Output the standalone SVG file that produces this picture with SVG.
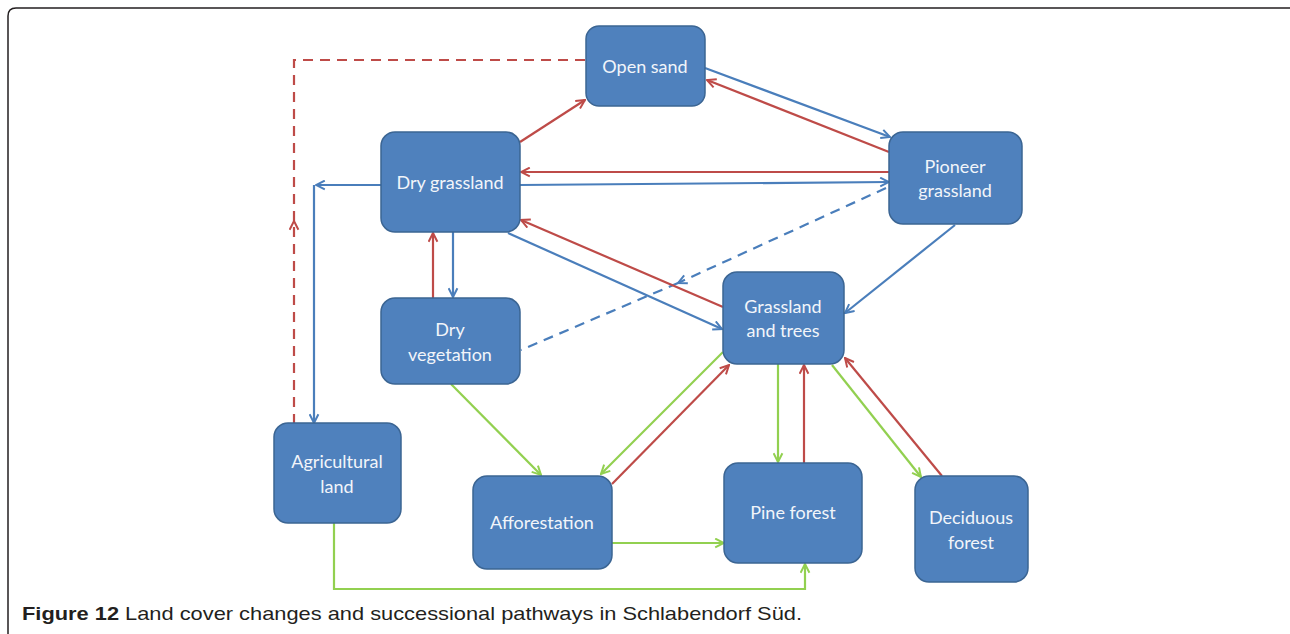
<svg xmlns="http://www.w3.org/2000/svg" width="1290" height="634" viewBox="0 0 1290 634">
<style>
.box{fill:#4F81BD;stroke:#3B6593;stroke-width:1.5}
.lbl{font-family:Lato,"Open Sans",sans-serif;font-size:18px;fill:#F2F5FA;text-anchor:middle}
.b{stroke:#4A7EBB;stroke-width:2.2;fill:none}
.r{stroke:#BE4B48;stroke-width:2.2;fill:none}
.g{stroke:#92D050;stroke-width:2.2;fill:none}
.d{stroke-dasharray:10,7}
.cap{font-family:"Liberation Sans",Arial,sans-serif;font-size:19px;fill:#231F20}
</style>
<defs>
<marker id="ab" viewBox="0 0 10 10" refX="9" refY="5" markerWidth="11" markerHeight="11" markerUnits="userSpaceOnUse" orient="auto"><path d="M1,1 L9,5 L1,9" fill="none" stroke="#4A7EBB" stroke-width="1.8"/></marker>
<marker id="ar" viewBox="0 0 10 10" refX="9" refY="5" markerWidth="11" markerHeight="11" markerUnits="userSpaceOnUse" orient="auto"><path d="M1,1 L9,5 L1,9" fill="none" stroke="#BE4B48" stroke-width="1.8"/></marker>
<marker id="ag" viewBox="0 0 10 10" refX="9" refY="5" markerWidth="11" markerHeight="11" markerUnits="userSpaceOnUse" orient="auto"><path d="M1,1 L9,5 L1,9" fill="none" stroke="#92D050" stroke-width="1.8"/></marker>
</defs>
<rect width="1290" height="634" fill="#FFFFFF"/>
<path d="M8,634 L8,16 Q8,8 16,8 L1290,8" fill="none" stroke="#231F20" stroke-width="1.5"/>

<g id="connectors">
<path class="r d" d="M294,424 L294,221" marker-end="url(#ar)"/>
<path class="r d" d="M294,221 L294,60 L586,60"/>
<path class="b" d="M381,185 L316,185" marker-end="url(#ab)"/>
<path class="b" d="M314,185 L314,423" marker-end="url(#ab)"/>
<path class="r" d="M520,142 L585,100" marker-end="url(#ar)"/>
<path class="b" d="M705,68 L890,137" marker-end="url(#ab)"/>
<path class="r" d="M889,152 L707,80" marker-end="url(#ar)"/>
<path class="r" d="M889,172 L521,172" marker-end="url(#ar)"/>
<path class="b" d="M520,185 L889,182" marker-end="url(#ab)"/>
<path class="b d" d="M886,188 L678,283" marker-end="url(#ab)"/>
<path class="b d" d="M678,283 L521,350"/>
<path class="r" d="M723,307 L521,220" marker-end="url(#ar)"/>
<path class="b" d="M508,233 L722,329" marker-end="url(#ab)"/>
<path class="r" d="M433,298 L433,233" marker-end="url(#ar)"/>
<path class="b" d="M453,232 L453,297" marker-end="url(#ab)"/>
<path class="b" d="M955,225 L845,313" marker-end="url(#ab)"/>
<path class="g" d="M451,384 L541,475" marker-end="url(#ag)"/>
<path class="g" d="M723,352 L601,474" marker-end="url(#ag)"/>
<path class="r" d="M612,484 L729,365" marker-end="url(#ar)"/>
<path class="g" d="M778,364 L778,462" marker-end="url(#ag)"/>
<path class="r" d="M804,463 L804,365" marker-end="url(#ar)"/>
<path class="g" d="M832,365 L921,477" marker-end="url(#ag)"/>
<path class="r" d="M942,476 L845,358" marker-end="url(#ar)"/>
<path class="g" d="M612,543 L724,543" marker-end="url(#ag)"/>
<path class="g" d="M334,523 L334,589 L805,589 L805,564" marker-end="url(#ag)"/>
</g>

<g id="open-sand"><rect class="box" x="586" y="26" width="119" height="80" rx="13"/><text class="lbl" x="645" y="73">Open sand</text></g>
<g id="dry-grassland"><rect class="box" x="381" y="132" width="139" height="100" rx="14"/><text class="lbl" x="450" y="189">Dry grassland</text></g>
<g id="pioneer-grassland"><rect class="box" x="889" y="132" width="133" height="92" rx="14"/><text class="lbl" x="955" y="173">Pioneer</text><text class="lbl" x="955" y="197">grassland</text></g>
<g id="grassland-and-trees"><rect class="box" x="723" y="272" width="121" height="92" rx="14"/><text class="lbl" x="783" y="313">Grassland</text><text class="lbl" x="783" y="337">and trees</text></g>
<g id="dry-vegetation"><rect class="box" x="381" y="298" width="139" height="86" rx="14"/><text class="lbl" x="450" y="336">Dry</text><text class="lbl" x="450" y="361">vegetation</text></g>
<g id="agricultural-land"><rect class="box" x="274" y="423" width="127" height="100" rx="14"/><text class="lbl" x="337" y="468">Agricultural</text><text class="lbl" x="337" y="493">land</text></g>
<g id="afforestation"><rect class="box" x="473" y="476" width="139" height="93" rx="14"/><text class="lbl" x="542" y="529">Afforestation</text></g>
<g id="pine-forest"><rect class="box" x="724" y="463" width="138" height="100" rx="14"/><text class="lbl" x="793" y="519">Pine forest</text></g>
<g id="deciduous-forest"><rect class="box" x="915" y="476" width="113" height="106" rx="14"/><text class="lbl" x="971" y="524">Deciduous</text><text class="lbl" x="971" y="549">forest</text></g>

<text class="cap" x="22" y="620" textLength="780" lengthAdjust="spacingAndGlyphs"><tspan font-weight="bold">Figure 12</tspan> Land cover changes and successional pathways in Schlabendorf Süd.</text>
</svg>
